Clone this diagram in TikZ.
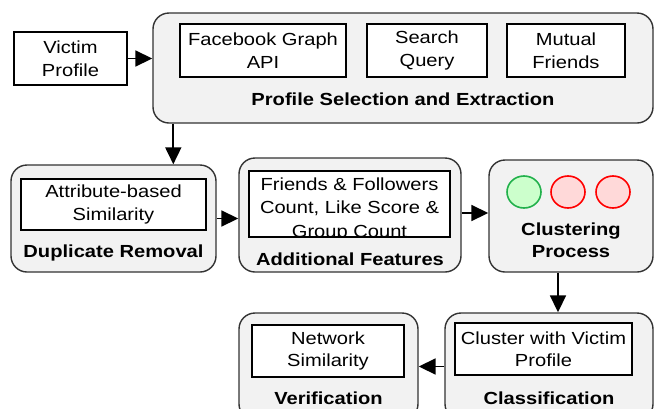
\documentclass[tikz,border=0pt]{standalone}
\usepackage{xcolor}
\usepackage{fontspec}
\setmainfont{Liberation Sans}[FakeStretch=1.15]
\usepackage{tikz}
\usetikzlibrary{arrows.meta,shapes.geometric}

\definecolor{panelgray}{HTML}{F2F2F2}
\definecolor{okgreen}{HTML}{22B14C}
\definecolor{okgreenfill}{HTML}{CCFFCC}
\definecolor{badred}{HTML}{FF0000}
\definecolor{badredfill}{HTML}{FFD9D9}

\begin{document}
\begin{tikzpicture}[x=1pt, y=-1pt,
    font=\fontsize{17.5}{22.5}\selectfont,
    stage/.style={draw=black!80, line width=1.4pt, fill=panelgray, rounded corners=16pt, inner sep=0pt},
    task/.style={draw, line width=1.1pt, fill=white, align=center, inner sep=0pt},
    stagename/.style={font=\fontsize{17.5}{22.5}\selectfont\bfseries, align=center, inner sep=0pt},
    flow/.style={line width=1.8pt, -{Triangle[length=17pt,width=16pt]}},
    blob/.style={ellipse, line width=1.6pt, minimum width=34pt, minimum height=32pt, inner sep=0pt}]
    \useasboundingbox (0,0) rectangle (657,408);
    \clip (0,0) rectangle (657,408);

    % input profile
    \node[task, minimum width=113pt, minimum height=53pt] (victim) at (70.5,58.5) {Victim\\Profile};

    % selection and extraction
    \node[stage, minimum width=500pt, minimum height=110pt] (select) at (403,68) {};
    \node[task, minimum width=166pt, minimum height=53pt] (graphapi) at (263,50.5) {Facebook Graph\\API};
    \node[task, minimum width=120pt, minimum height=53pt] (search) at (427,50.5) {Search\\Query};
    \node[task, minimum width=118pt, minimum height=53pt] (mutual) at (566,50.5) {Mutual\\Friends};
    \node[stagename] (selectname) at (403,99) {Profile Selection and Extraction};

    % duplicate removal
    \node[stage, minimum width=205pt, minimum height=107pt] (dedup) at (113.5,218.5) {};
    \node[task, minimum width=185pt, minimum height=51pt] (attrsim) at (113.5,204.5) {Attribute-based\\Similarity};
    \node[stagename] (dedupname) at (113.5,253) {Duplicate Removal};

    % additional features (text runs past the box)
    \node[stage, minimum width=222pt, minimum height=114pt] (extra) at (350,215) {};
    \node[task, minimum width=201pt, minimum height=66pt] (features) at (349.5,204) {};
    \begin{scope}
        \clip (features.south west) rectangle (features.north east);
        \node[align=center, inner sep=0pt, font=\fontsize{17.5}{23.5}\selectfont] (featuretext) at (349.5,209)
            {Friends \& Followers\\Count, Like Score \&\\Group Count};
    \end{scope}
    \node[stagename] (extraname) at (350,259) {Additional Features};

    % clustering
    \node[stage, minimum width=164pt, minimum height=112pt] (cluster) at (571,216) {};
    \node[blob, draw=okgreen, fill=okgreenfill] (c1) at (524,192) {};
    \node[blob, draw=badred, fill=badredfill] (c2) at (568,192) {};
    \node[blob, draw=badred, fill=badredfill] (c3) at (613,192) {};
    \node[stagename] (clustername) at (571,240) {Clustering\\Process};

    % verification and classification
    \node[stage, minimum width=179pt, minimum height=107pt] (verify) at (328.5,366.5) {};
    \node[task, minimum width=152pt, minimum height=52pt] (netsim) at (328,351) {Network\\Similarity};
    \node[stagename] (verifyname) at (328.5,398) {Verification};

    \node[stage, minimum width=208pt, minimum height=107pt] (classify) at (549,366.5) {};
    \node[task, minimum width=177pt, minimum height=52pt] (withvictim) at (543.5,349) {Cluster with Victim\\Profile};
    \node[stagename] (classifyname) at (549,398) {Classification};

    % connectors
    \draw[flow] (victim.east) -- (victim.east -| select.west);
    \draw[flow] ([xshift=21pt]select.south west) -- ([xshift=21pt]select.south west |- dedup.north);
    \draw[flow] (dedup.east) -- (dedup.east -| extra.west);
    \draw[flow] ([yshift=2pt]extra.east) -- ([yshift=2pt]extra.east -| cluster.west);
    \draw[flow] ([xshift=-13pt]cluster.south) -- ([xshift=-13pt]cluster.south |- classify.north);
    \draw[flow] (classify.west) -- (classify.west -| verify.east);
\end{tikzpicture}
\end{document}
